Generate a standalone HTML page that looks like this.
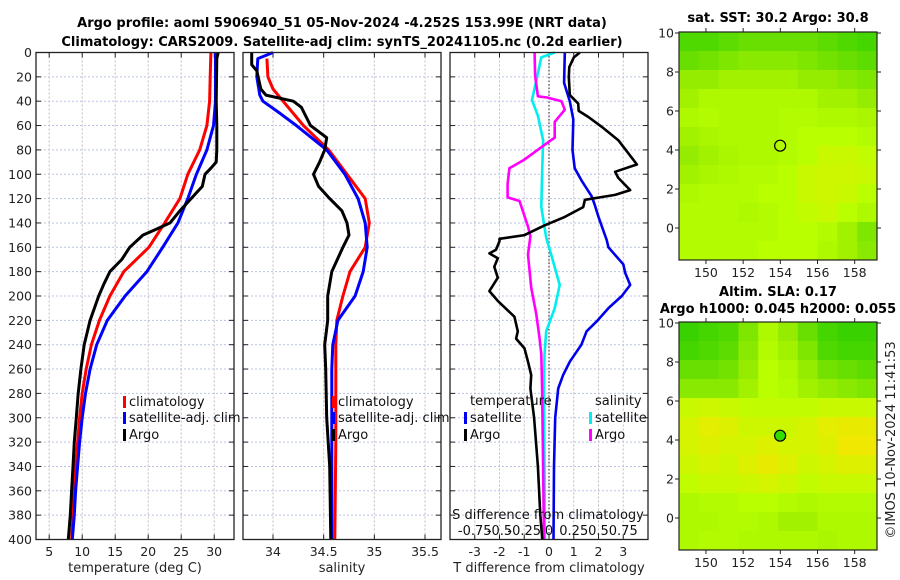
<!DOCTYPE html>
<html><head><meta charset="utf-8"><style>
html,body{margin:0;padding:0;background:#fff;}
svg{display:block;font-family:"DejaVu Sans","Liberation Sans",sans-serif;}
</style></head><body>
<svg id="s" width="900" height="580" viewBox="0 0 900 580" xmlns="http://www.w3.org/2000/svg">
<text x="342" y="27" text-anchor="middle" font-size="13" font-weight="bold">Argo profile: aoml 5906940_51 05-Nov-2024 -4.252S 153.99E (NRT data)</text>
<text x="342" y="46" text-anchor="middle" font-size="13" font-weight="bold">Climatology: CARS2009. Satellite-adj clim: synTS_20241105.nc (0.2d earlier)</text>
<text x="778" y="22" text-anchor="middle" font-size="13" font-weight="bold">sat. SST: 30.2 Argo: 30.8</text>
<text x="778" y="296" text-anchor="middle" font-size="13" font-weight="bold">Altim. SLA: 0.17</text>
<text x="778" y="313" text-anchor="middle" font-size="13" font-weight="bold">Argo h1000: 0.045 h2000: 0.055</text>
<text transform="translate(895,440) rotate(-90)" text-anchor="middle" font-size="13" fill="#222">©IMOS 10-Nov-2024 11:41:53</text>
</svg>
<script>
// ---- data ----
const depthTicks=[0,20,40,60,80,100,120,140,160,180,200,220,240,260,280,300,320,340,360,380,400];
const tTicks=[5,10,15,20,25,30];
const sTicks=[34,34.5,35,35.5];
const dTicks=[-3,-2,-1,0,1,2,3];
const sdTickLabels=["-0.75","-0.5","-0.25","0","0.25","0.5","0.75"];
const sdTickValues=[-0.75,-0.5,-0.25,0,0.25,0.5,0.75];

const climTdepth=[0,20,40,60,80,100,120,140,160,180,200,220,240,260,280,300,320,340,360,380,400];
const climT=[29.5,29.4,29.3,28.9,27.8,26,24.8,22.5,20.1,16.3,14.2,12.6,11.4,10.6,10,9.6,9.3,9.0,8.8,8.6,8.4];
const satTdepth=[0,40,60,80,100,120,140,160,180,200,220,240,260,280,300,320,340,360,380,400];
const satT=[30.2,30.2,29.9,28.9,27.3,26,24.5,22.2,19.8,16.5,13.8,12.2,11.2,10.5,10,9.6,9.3,9,8.8,8.5];
const argoTdepth=[0,5,40,60,80,90,95,100,110,120,130,140,145,150,160,170,180,190,200,220,240,260,280,300,320,340,360,380,400];
const argoT=[30.6,30.4,30.3,30.4,30.4,30.3,29.5,28.6,28.2,26.5,24.8,23.3,21.3,19.2,17.2,16,14.2,13.3,12.5,11.2,10.3,9.8,9.4,9.1,8.8,8.6,8.4,8.2,7.9];

const climSdepth=[5,20,30,40,60,80,100,120,140,160,180,200,220,240,280,320,400];
const climS=[33.94,33.95,34.0,34.1,34.3,34.55,34.73,34.91,34.95,34.91,34.76,34.69,34.63,34.62,34.62,34.62,34.61];
const satSdepth=[0,5,20,35,40,50,60,80,100,120,140,160,180,200,220,240,260,300,340,400];
const satS=[34.0,33.85,33.84,33.87,33.9,34.07,34.23,34.53,34.71,34.84,34.91,34.93,34.89,34.81,34.64,34.59,34.58,34.58,34.58,34.58];
const argoSdepth=[0,10,15,30,35,40,45,50,60,70,80,90,100,110,120,130,140,150,160,180,200,220,240,260,300,340,400];
const argoS=[33.79,33.79,33.84,33.88,33.93,34.2,34.28,34.31,34.37,34.53,34.51,34.46,34.4,34.45,34.56,34.68,34.73,34.75,34.69,34.58,34.54,34.54,34.51,34.52,34.53,34.56,34.57];

const dSatTdepth=[0,25,40,55,80,95,105,118,124,135,154,160,174,181,191,200,210,221,229,240,254,265,276,300,340,400];
const dSatT=[0.64,0.61,0.84,0.98,0.95,1.04,1.31,1.72,1.83,2.0,2.33,2.4,3.0,3.08,3.28,2.94,2.4,1.92,1.52,1.31,0.84,0.57,0.37,0.25,0.2,0.18];
const dArgoTdepth=[0,4,12,20,35,42,48,53,61,72,92,98,103,113,117,121,127,135,142,150,153,155,162,165,169,176,185,196,204,217,229,235,243,254,265,276,300,340,380,400];
const dArgoT=[1.25,1.0,0.82,0.8,0.84,1.18,1.2,1.59,2.13,2.8,3.55,2.67,2.8,3.28,2.67,1.45,1.38,0.64,-0.18,-0.99,-2.0,-2.0,-2.14,-2.41,-2.07,-2.21,-2.07,-2.41,-2.07,-1.4,-1.26,-1.33,-0.99,-0.85,-0.72,-0.75,-0.6,-0.45,-0.35,-0.27];
const dSatSdepth=[0,4,17,39,52,72,100,127,152,166,191,210,229,248,276,340,400];
const dSatS=[0.058,-0.078,-0.112,-0.172,-0.112,-0.06,-0.07,-0.078,-0.028,0.022,0.108,0.058,-0.028,-0.045,-0.05,-0.045,-0.04];
const dArgoSdepth=[0,19,36,37,40,47,57,70,72,88,95,108,119,122,130,143,151,166,193,215,235,248,276,340,400];
const dArgoS=[-0.145,-0.14,-0.112,-0.02,0.125,0.16,0.058,0.058,0.02,-0.248,-0.4,-0.418,-0.418,-0.298,-0.265,-0.212,-0.188,-0.212,-0.18,-0.128,-0.095,-0.078,-0.07,-0.06,-0.05];

const mapLonTicks=[150,152,154,156,158];
const mapLatTicks=[0,2,4,6,8,10];
const sstGrid=[
[.2,.2,.25,.3,.3,.3,.3,.25,.2,.15],
[.3,.35,.4,.45,.45,.45,.4,.35,.3,.25],
[.5,.5,.55,.55,.55,.55,.5,.5,.45,.4],
[.55,.6,.6,.6,.6,.6,.6,.55,.55,.5],
[.6,.62,.6,.6,.6,.62,.62,.6,.6,.58],
[.55,.58,.6,.6,.6,.62,.65,.65,.65,.62],
[.5,.55,.58,.6,.6,.62,.65,.7,.7,.68],
[.55,.58,.6,.62,.62,.65,.7,.72,.72,.7],
[.6,.62,.62,.62,.65,.65,.7,.72,.7,.65],
[.62,.62,.62,.6,.62,.65,.68,.7,.65,.6],
[.62,.62,.62,.62,.62,.65,.65,.62,.55,.4],
[.62,.62,.62,.62,.65,.65,.65,.6,.55,.45]];
const slaGrid=[
[.1,.15,.2,.4,.6,.5,.3,.15,.1,.1],
[.15,.2,.25,.45,.62,.55,.4,.2,.15,.15],
[.3,.3,.35,.5,.65,.6,.5,.35,.3,.25],
[.45,.45,.45,.55,.65,.62,.55,.5,.45,.4],
[.7,.72,.7,.68,.68,.68,.68,.7,.7,.7],
[.75,.8,.78,.72,.72,.72,.75,.8,.82,.82],
[.75,.78,.75,.75,.78,.75,.75,.78,.85,.85],
[.72,.75,.72,.78,.82,.78,.72,.75,.78,.78],
[.68,.7,.7,.72,.75,.72,.68,.7,.7,.7],
[.6,.62,.62,.65,.65,.62,.6,.62,.62,.62],
[.6,.6,.62,.62,.6,.55,.55,.6,.6,.6],
[.6,.62,.62,.6,.6,.6,.6,.58,.6,.6]];
const floatLon=153.99, floatLat=4.22;

// ---- drawing ----
const svg=document.getElementById('s');
const NS='http://www.w3.org/2000/svg';
function mk(tag,attrs,parent){const e=document.createElementNS(NS,tag);for(const k in attrs)e.setAttribute(k,attrs[k]);(parent||svg).appendChild(e);return e;}
const Y0=52.5,Y1=539.5;
const yD=d=>Y0+(d/400)*(Y1-Y0);
function lin(d0,d1,r0,r1){return v=>r0+(v-d0)/(d1-d0)*(r1-r0);}

function panel(name,x0,x1,xs,ticks,tickLabels,yLabels,xTitle,showTickLabels){
  const g=mk('g',{});
  
  
  depthTicks.forEach(d=>{
    const l=mk('line',{x1:x0,x2:x1,y1:yD(d),y2:yD(d),stroke:'#b8c4e6','stroke-width':1,'stroke-dasharray':'2,2'},g);
    
    
    mk('line',{x1:x0,x2:x0+5,y1:yD(d),y2:yD(d),stroke:'#222'},g);
    mk('line',{x1:x1-5,x2:x1,y1:yD(d),y2:yD(d),stroke:'#222'},g);
    if(yLabels){const t=mk('text',{x:x0-4,y:yD(d)+4.5,'text-anchor':'end','font-size':12.5,fill:'#222'},g);t.textContent=d;
      
      }
  });
  ticks.forEach((v,i)=>{
    const x=xs(v);
    const l=mk('line',{x1:x,x2:x,y1:Y0,y2:Y1,stroke:'#c8b8c8','stroke-width':1,'stroke-dasharray':'2,2'},g);
    
    
    mk('line',{x1:x,x2:x,y1:Y1-5,y2:Y1,stroke:'#222'},g);
    mk('line',{x1:x,x2:x,y1:Y0,y2:Y0+5,stroke:'#222'},g);
    if(showTickLabels){const t=mk('text',{x:x,y:556,'text-anchor':'middle','font-size':12.5,fill:'#222'},g);t.textContent=tickLabels[i];
      
      }
  });
  const xt=mk('text',{x:(x0+x1)/2,y:572,'text-anchor':'middle','font-size':13,fill:'#222'},g);xt.textContent=xTitle;
  
  
  return g;
}
function frame(g,x0,x1){const r=mk('rect',{x:x0,y:Y0,width:x1-x0,height:Y1-Y0,fill:'none',stroke:'#222','stroke-width':1.3},g);
  
  }
function line(g,name,xs,vals,depths,color,w){
  const pts=vals.map((v,i)=>xs(v).toFixed(1)+','+yD(depths[i]).toFixed(1)).join(' ');
  const p=mk('polyline',{points:pts,fill:'none',stroke:color,'stroke-width':w,'stroke-linejoin':'round'},g);
  
  
}
function legend(g,name,x,y,color,label){
  const r=mk('rect',{x:x,y:y-10,width:3,height:12,fill:color},g);
  
  
  const t=mk('text',{x:x+6,y:y,'font-size':13,fill:'#111'},g);t.textContent=label;
  
  
}

// Panel 1
const xT=lin(3,33,36,234);
const g1=panel('temperature-panel',36,234,xT,tTicks,tTicks,true,'temperature (deg C)',true);
line(g1,'temperature-climatology-line',xT,climT,climTdepth,'#ff0000',3);
line(g1,'temperature-satellite-line',xT,satT,satTdepth,'#0000ff',3);
line(g1,'temperature-argo-line',xT,argoT,argoTdepth,'#000000',3);
frame(g1,36,234);
legend(g1,'legend-climatology',123,406,'#ff0000','climatology');
legend(g1,'legend-satellite-adj',123,422,'#0000ff','satellite-adj. clim');
legend(g1,'legend-argo',123,439,'#000000','Argo');

// Panel 2
const xS=lin(34,35.5,273,425);
const g2=panel('salinity-panel',243,441,xS,sTicks,sTicks,false,'salinity',true);
line(g2,'salinity-climatology-line',xS,climS,climSdepth,'#ff0000',3);
line(g2,'salinity-satellite-line',xS,satS,satSdepth,'#0000ff',3);
line(g2,'salinity-argo-line',xS,argoS,argoSdepth,'#000000',3);
frame(g2,243,441);
legend(g2,'legend-s-climatology',332,406,'#ff0000','climatology');
legend(g2,'legend-s-satellite-adj',332,422,'#0000ff','satellite-adj. clim');
legend(g2,'legend-s-argo',332,439,'#000000','Argo');

// Panel 3
const xDT=lin(-4,4,450,648);
const xDS=v=>xDT(v*4);
const g3=panel('difference-panel',450,648,xDT,dTicks,dTicks,false,'T difference from climatology',true);
const zl=mk('line',{x1:xDT(0),x2:xDT(0),y1:Y0,y2:Y1,stroke:'#444','stroke-dasharray':'1.5,2','stroke-width':1.2},g3);


line(g3,'s-diff-satellite-line',xDS,dSatS,dSatSdepth,'#00eeee',2.6);
line(g3,'s-diff-argo-line',xDS,dArgoS,dArgoSdepth,'#ff00ff',2.6);
line(g3,'t-diff-satellite-line',xDT,dSatT,dSatTdepth,'#0000ee',2.6);
line(g3,'t-diff-argo-line',xDT,dArgoT,dArgoTdepth,'#000000',2.6);
frame(g3,450,648);
const lt=mk('text',{x:470,y:405,'font-size':13,fill:'#111'},g3);lt.textContent='temperature';


const ls=mk('text',{x:595,y:405,'font-size':13,fill:'#111'},g3);ls.textContent='salinity';


legend(g3,'legend-t-satellite',464,422,'#0000ee','satellite');
legend(g3,'legend-t-argo',464,439,'#000000','Argo');
legend(g3,'legend-s-satellite',589,422,'#00eeee','satellite');
legend(g3,'legend-s-argo',589,439,'#ff00ff','Argo');
const st=mk('text',{x:548,y:519,'text-anchor':'middle','font-size':13,fill:'#111'},g3);st.textContent='S difference from climatology';


sdTickValues.forEach((v,i)=>{
  const t=mk('text',{x:xDS(v),y:535,'text-anchor':'middle','font-size':13,fill:'#111'},g3);t.textContent=sdTickLabels[i];
  
  
});

// Maps
function cmap(v){
  const stops=[[0,[34,204,0]],[0.5,[150,236,0]],[0.65,[186,255,0]],[0.85,[240,232,0]],[1,[250,210,0]]];
  for(let i=1;i<stops.length;i++){if(v<=stops[i][0]){const a=stops[i-1],b=stops[i];const f=(v-a[0])/(b[0]-a[0]);
    return 'rgb('+a[1].map((c,k)=>Math.round(c+(b[1][k]-c)*f)).join(',')+')';}}
  return 'rgb(250,210,0)';
}
function map(name,gx0,gy0,gx1,gy1,lat10y,lat0y,grid,filled){
  const g=mk('g',{});
  
  
  const lonX=lin(148.55,159.2,gx0,gx1);
  const latY=lin(0,10,lat0y,lat10y);
  const rows=grid.length,cols=grid[0].length;
  const cw=(gx1-gx0)/cols,ch=(gy1-gy0)/rows;
  grid.forEach((row,r)=>row.forEach((v,c)=>{
    const cell=mk('rect',{x:gx0+c*cw,y:gy0+r*ch,width:cw+0.5,height:ch+0.5,fill:cmap(v)},g);
    
    
  }));
  const fr=mk('rect',{x:gx0,y:gy0,width:gx1-gx0,height:gy1-gy0,fill:'none',stroke:'#222','stroke-width':1.2},g);
  
  
  mapLonTicks.forEach(v=>{const x=lonX(v);
    mk('line',{x1:x,x2:x,y1:gy1,y2:gy1+4,stroke:'#222'},g);mk('line',{x1:x,x2:x,y1:gy0-4,y2:gy0,stroke:'#222'},g);
    const t=mk('text',{x:x,y:gy1+17,'text-anchor':'middle','font-size':12.5,fill:'#222'},g);t.textContent=v;
    
    });
  mapLatTicks.forEach(v=>{const y=latY(v);
    mk('line',{x1:gx0-4,x2:gx0,y1:y,y2:y,stroke:'#222'},g);mk('line',{x1:gx1,x2:gx1+4,y1:y,y2:y,stroke:'#222'},g);
    const t=mk('text',{x:gx0-5,y:y+4.5,'text-anchor':'end','font-size':12.5,fill:'#222'},g);t.textContent=v;
    
    });
  const c=mk('circle',{cx:lonX(floatLon),cy:latY(floatLat),r:5.5,fill:filled?'#33dd00':'none',stroke:'#000','stroke-width':1.2},g);
  
  
}
map('sst-map',679,32,877,260,33,228,sstGrid,false);
map('sla-map',679,322,877,550,323,518,slaGrid,true);
</script>
</body></html>
